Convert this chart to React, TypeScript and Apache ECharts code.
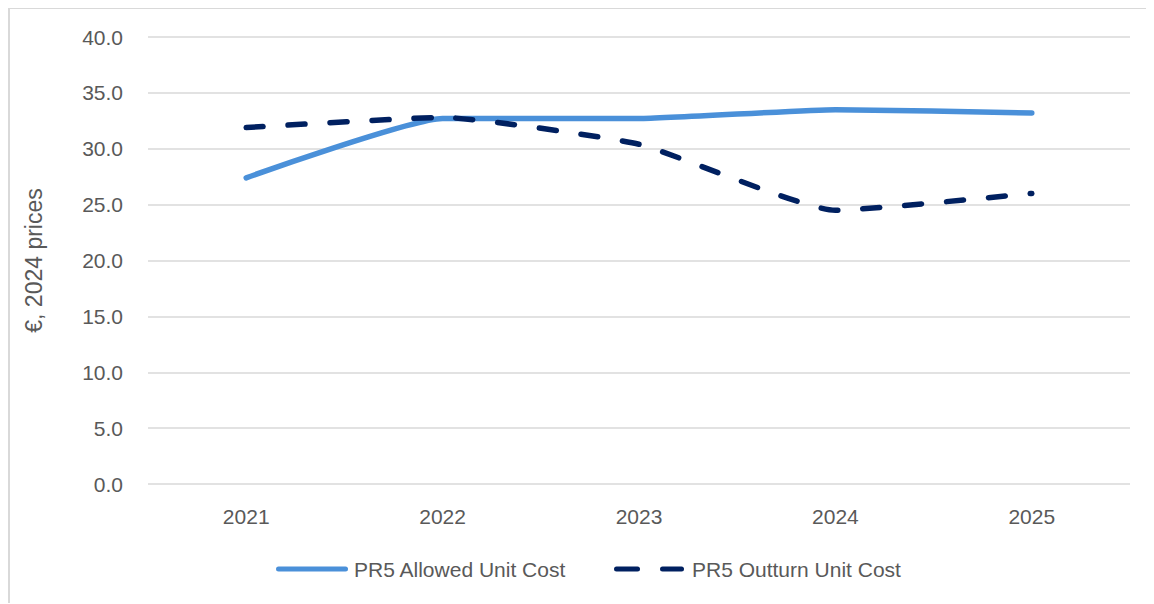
import React, { useEffect, useRef } from "react";
import * as echarts from "echarts";

const years = ["2021", "2022", "2023", "2024", "2025"];
const allowedUnitCost = [27.4, 32.7, 32.7, 33.5, 33.2];
const outturnUnitCost = [31.9, 32.8, 30.4, 24.5, 26.0];
const seriesNames = ["PR5 Allowed Unit Cost", "PR5 Outturn Unit Cost"];

const FONT = "'Liberation Sans', Arial, sans-serif";
const TEXT = "#595959";
const BLUE = "#4a90d9";
const NAVY = "#002060";

export default function App() {
  const ref = useRef<HTMLDivElement>(null);
  useEffect(() => {
    if (!ref.current) return;
    const chart = echarts.init(ref.current, undefined, { renderer: "svg" });
    const ly = 559;
    chart.setOption({
      animation: false,
      backgroundColor: "#ffffff",
      textStyle: { fontFamily: FONT },
      grid: { left: 138, right: 24, top: 27, bottom: 120 },
      graphic: [
        {
          type: "line",
          shape: { x1: 268.5, y1: ly, x2: 335.5, y2: ly },
          style: { stroke: BLUE, lineWidth: 5, lineCap: "round" },
        },
        {
          type: "text",
          x: 344,
          y: ly,
          style: { text: seriesNames[0], fill: TEXT, font: `21px ${FONT}`, verticalAlign: "middle" },
        },
        {
          type: "line",
          shape: { x1: 606.5, y1: ly, x2: 627.5, y2: ly },
          style: { stroke: NAVY, lineWidth: 5, lineCap: "round" },
        },
        {
          type: "line",
          shape: { x1: 652.5, y1: ly, x2: 671.5, y2: ly },
          style: { stroke: NAVY, lineWidth: 5, lineCap: "round" },
        },
        {
          type: "text",
          x: 682,
          y: ly,
          style: { text: seriesNames[1], fill: TEXT, font: `21px ${FONT}`, verticalAlign: "middle" },
        },
      ],
      xAxis: {
        type: "category",
        data: years,
        boundaryGap: true,
        axisLine: { show: false },
        axisTick: { show: false },
        axisLabel: { color: TEXT, fontSize: 21, margin: 22, fontFamily: FONT },
      },
      yAxis: {
        type: "value",
        min: 0,
        max: 40,
        interval: 5,
        name: "€, 2024 prices",
        nameLocation: "middle",
        nameGap: 103,
        nameRotate: 90,
        nameTextStyle: { color: TEXT, fontSize: 23, fontFamily: FONT },
        axisLabel: {
          color: TEXT,
          fontSize: 21,
          margin: 25,
          fontFamily: FONT,
          formatter: (v: number) => v.toFixed(1),
        },
        axisLine: { show: false },
        axisTick: { show: false },
        splitLine: { lineStyle: { color: "#d9d9d9", width: 1.5 } },
      },
      series: [
        {
          name: seriesNames[0],
          type: "line",
          data: allowedUnitCost,
          smooth: 0.15,
          showSymbol: false,
          symbol: "none",
          itemStyle: { color: BLUE },
          lineStyle: { color: BLUE, width: 5.5, cap: "round", join: "round" },
        },
        {
          name: seriesNames[1],
          type: "line",
          data: outturnUnitCost,
          smooth: 0.15,
          showSymbol: false,
          symbol: "none",
          itemStyle: { color: NAVY },
          lineStyle: {
            color: NAVY,
            width: 5.5,
            type: [17, 25],
            cap: "round",
            join: "round",
          },
        },
      ],
    });
    return () => chart.dispose();
  }, []);
  return (
    <div
      style={{
        position: "relative",
        width: 1146,
        height: 596,
        marginTop: -1,
        borderLeft: "2px solid #d9d9d9",
        borderTop: "2px solid #d9d9d9",
        boxSizing: "border-box",
        overflow: "hidden",
      }}
    >
      <div ref={ref} style={{ position: "absolute", left: 0, top: 1, width: 1144, height: 594 }} />
    </div>
  );
}
